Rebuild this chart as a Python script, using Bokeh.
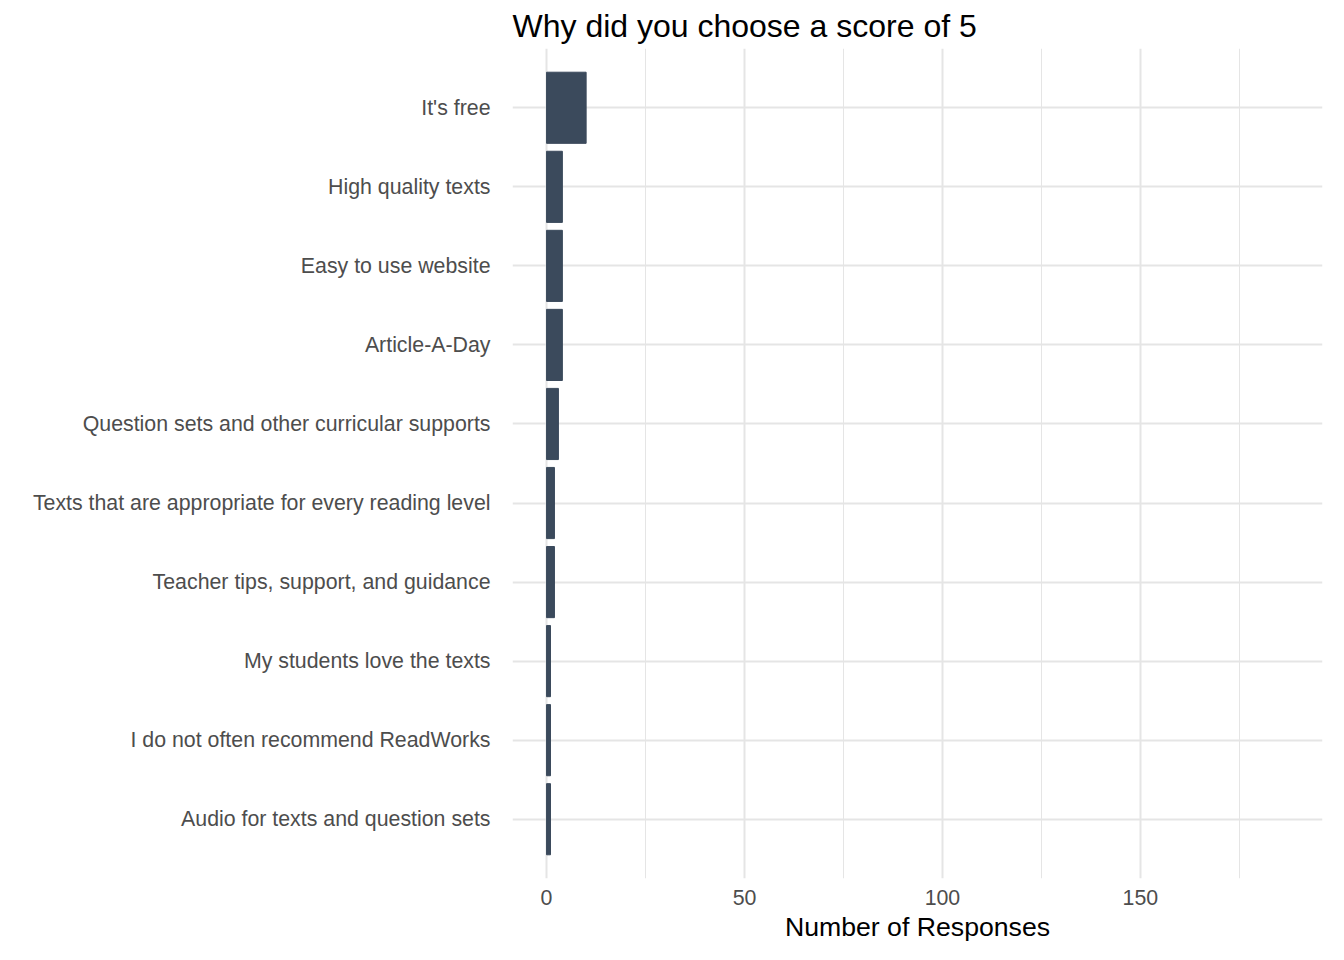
from bokeh.plotting import figure
from bokeh.models import FixedTicker
from bokeh.embed import file_html
from bokeh.resources import INLINE

reasons = [
    "Audio for texts and question sets",
    "I do not often recommend ReadWorks",
    "My students love the texts",
    "Teacher tips, support, and guidance",
    "Texts that are appropriate for every reading level",
    "Question sets and other curricular supports",
    "Article-A-Day",
    "Easy to use website",
    "High quality texts",
    "It's free",
]
counts = [1, 1, 1, 2, 2, 3, 4, 4, 4, 10]

p = figure(width=1328, height=944, y_range=reasons, x_range=(-8.6, 196),
           output_backend="svg", toolbar_location=None,
           title="Why did you choose a score of 5",
           min_border_left=512, min_border_right=6, min_border_top=14, min_border_bottom=20)
p.hbar(y=reasons, right=counts, left=0, height=0.9, color="#3b4a5c")

p.title.text_font = "Liberation Sans"
p.title.text_font_size = "24pt"
p.title.text_font_style = "normal"
p.title.text_color = "black"

p.outline_line_color = None
for ax in (p.xaxis, p.yaxis):
    ax.axis_line_color = None
    ax.major_tick_line_color = None
    ax.minor_tick_line_color = None
    ax.major_label_text_font = "Liberation Sans"
    ax.major_label_text_font_size = "16pt"
    ax.major_label_text_color = "#4d4d4d"
p.xaxis.ticker = FixedTicker(ticks=[0, 50, 100, 150], minor_ticks=[25, 75, 125, 175])
p.xaxis.axis_label = "Number of Responses"
p.xaxis.axis_label_text_font = "Liberation Sans"
p.xaxis.axis_label_text_font_size = "20pt"
p.xaxis.axis_label_text_font_style = "normal"
p.xaxis.axis_label_text_color = "black"
p.xaxis.axis_label_standoff = 4
p.yaxis.major_label_standoff = 16

p.xgrid.grid_line_color = "#e5e5e5"
p.xgrid.grid_line_width = 2
p.xgrid.minor_grid_line_color = "#e5e5e5"
p.xgrid.minor_grid_line_width = 1
p.ygrid.grid_line_color = "#e5e5e5"
p.ygrid.grid_line_width = 2
p.y_range.range_padding = 0.05

open("out.html", "w").write(file_html(p, INLINE))
